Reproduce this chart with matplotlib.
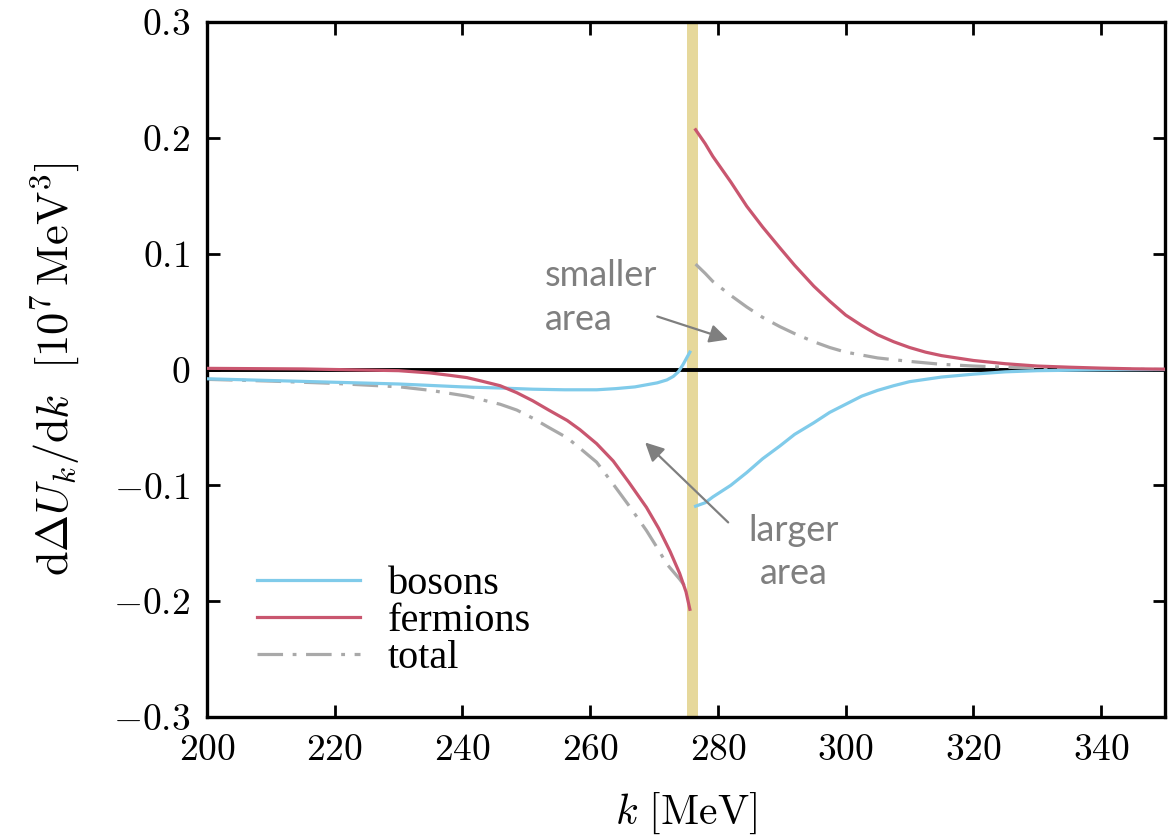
import matplotlib
matplotlib.use("Agg")
import matplotlib.pyplot as plt

plt.rcParams['mathtext.fontset'] = 'cm'
plt.rcParams['font.family'] = 'serif'
plt.rcParams['font.serif'] = ['Liberation Serif', 'DejaVu Serif']

# data
k_bos_lo = [200, 210, 220, 230, 240, 246, 251, 256, 261, 264, 267, 269, 270.5, 272, 273, 273.8,
            274.5, 275.1, 275.6]
bos_lo = [-0.008, -0.0095, -0.011, -0.0125, -0.015, -0.016, -0.017, -0.0175, -0.0175, -0.0165,
          -0.015, -0.013, -0.0115, -0.009, -0.006, -0.002, 0.004, 0.010, 0.015]
k_bos_hi = [276.5, 278, 279.2, 282, 284.5, 287, 289.7, 292, 295, 297.5, 300, 302.5, 305, 307.5,
            310, 315, 320, 325, 330, 340, 350]
bos_hi = [-0.118, -0.115, -0.110, -0.100, -0.089, -0.077, -0.066, -0.056, -0.046, -0.037, -0.030,
          -0.023, -0.018, -0.014, -0.0105, -0.0065, -0.004, -0.002, -0.001, -0.0003, 0.0]

k_fer_lo = [200, 215, 225, 230, 235, 238, 240.7, 243, 245.9, 248.5, 251, 253.5, 256.4, 258.4,
            261, 263.6, 266, 268.8, 270.7, 272.5, 274, 275, 275.6]
fer_lo = [0.001, 0.0005, -0.0005, -0.001, -0.003, -0.005, -0.007, -0.010, -0.014, -0.020, -0.027,
          -0.035, -0.044, -0.052, -0.064, -0.079, -0.097, -0.119, -0.137, -0.157, -0.176, -0.192,
          -0.207]
k_fer_hi = [276.5, 278, 279.2, 282, 284.5, 287, 289.7, 292, 295, 297.5, 300, 302.5, 305, 307.5,
            310, 312.5, 315, 320, 325, 330, 335, 340, 345, 350]
fer_hi = [0.207, 0.195, 0.184, 0.162, 0.141, 0.123, 0.105, 0.090, 0.072, 0.059, 0.047, 0.038,
          0.030, 0.024, 0.019, 0.015, 0.012, 0.0078, 0.005, 0.003, 0.002, 0.0012, 0.0006, 0.0003]

k_tot_lo = [200, 210, 220, 230.2, 235, 240.7, 245.9, 248.5, 251, 253.5, 256.4, 258.4, 261, 263.6,
            266, 268.8, 270.5, 272, 274, 275.5]
tot_lo = [-0.0085, -0.010, -0.012, -0.015, -0.018, -0.023, -0.030, -0.035, -0.042, -0.050, -0.059,
          -0.068, -0.080, -0.099, -0.117, -0.139, -0.154, -0.168, -0.181, -0.192]
k_tot_hi = [276.5, 278, 279.2, 282, 284.5, 287, 289.7, 292, 295, 297.5, 300, 305, 310, 315, 320,
            325, 330, 340, 350]
tot_hi = [0.091, 0.083, 0.076, 0.064, 0.054, 0.045, 0.037, 0.031, 0.024, 0.019, 0.015, 0.010,
          0.007, 0.0045, 0.003, 0.002, 0.0012, 0.0003, 0.0]

band = (275.1, 276.9)
xticks = [200, 220, 240, 260, 280, 300, 320, 340]
yticks = [-0.3, -0.2, -0.1, 0, 0.1, 0.2, 0.3]

c_bos = '#80cbea'
c_fer = '#c9566f'
c_tot = '#a9a9a9'
c_note = '#7f7f7f'

fig = plt.figure(figsize=(11.71, 8.38), dpi=100)
ax = fig.add_axes([0.1768, 0.1444, 0.8181, 0.8293])

ax.axvspan(band[0], band[1], color='#e6d89b', lw=0, zorder=0)
ax.axhline(0, color='black', lw=2.8, zorder=1)

lw = 2.3
ax.plot(k_bos_lo, bos_lo, color=c_bos, lw=lw, label='bosons', zorder=3)
ax.plot(k_bos_hi, bos_hi, color=c_bos, lw=lw, zorder=3)
ax.plot(k_fer_lo, fer_lo, color=c_fer, lw=lw, label='fermions', zorder=3)
ax.plot(k_fer_hi, fer_hi, color=c_fer, lw=lw, zorder=3)
ax.plot(k_tot_lo, tot_lo, color=c_tot, lw=lw, dashes=(8, 3, 1.2, 3), label='total', zorder=2)
ax.plot(k_tot_hi, tot_hi, color=c_tot, lw=lw, dashes=(8, 3, 1.2, 3), zorder=2)

# annotations
note_font = dict(family='Lato', size=26, color=c_note)
ax.text(252.9, 0.0723, 'smaller', ha='left', va='baseline', **note_font)
ax.text(252.9, 0.0345, 'area', ha='left', va='baseline', **note_font)
ax.text(291.8, -0.148, 'larger', ha='center', va='baseline', **note_font)
ax.text(291.8, -0.185, 'area', ha='center', va='baseline', **note_font)
arrow = dict(arrowstyle='-|>', color=c_note, lw=1.6, mutation_scale=28, shrinkA=0, shrinkB=0)
ax.annotate('', xy=(281.6, 0.0259), xytext=(270.5, 0.0458), arrowprops=arrow)
ax.annotate('', xy=(268.6, -0.063), xytext=(281.6, -0.132), arrowprops=arrow)

ax.set_xlim(200, 350)
ax.set_ylim(-0.3, 0.3)
ax.set_xticks(xticks)
ax.set_xticklabels(['$%d$' % t for t in xticks])
ax.set_yticks(yticks)
ax.set_yticklabels(['$%g$' % t for t in yticks])
ax.tick_params(direction='in', length=9, width=2, labelsize=27, pad=12,
               top=True, right=True)
for s in ax.spines.values():
    s.set_linewidth(2.4)

ax.set_xlabel(r'$k\ [\mathrm{MeV}]$', fontsize=30, labelpad=16)
ax.set_ylabel(r'$\mathrm{d}\Delta U_k/\mathrm{d}k\ \ [10^7\,\mathrm{MeV}^3]$', fontsize=32, labelpad=22)

ax.legend(loc='upper left', bbox_to_anchor=(0.052, 0.218), frameon=False, fontsize=29,
          handlelength=2.55, handletextpad=0.7, labelspacing=0.0, borderpad=0, borderaxespad=0)

fig.savefig('out.png', dpi=100)
